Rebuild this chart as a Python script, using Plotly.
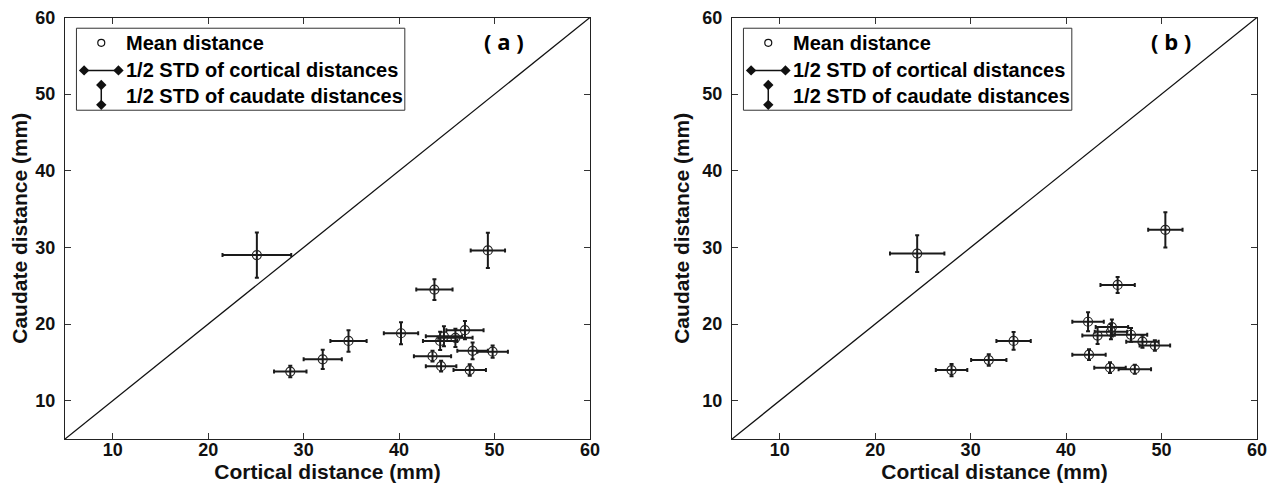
import plotly.graph_objects as go

# ---------------- data ----------------
# Panel (a)
a_cortical = [25.1, 28.6, 32.0, 34.7, 40.2, 43.7, 49.3, 44.7, 45.9, 44.3, 46.9, 43.5, 44.4, 47.7, 49.8, 47.4]
a_caudate = [29.0, 13.8, 15.4, 17.8, 18.8, 24.5, 29.6, 18.4, 18.2, 17.8, 19.2, 15.8, 14.5, 16.5, 16.4, 14.0]
a_cort_sd = [3.6, 1.7, 2.0, 1.9, 1.8, 1.9, 1.8, 1.9, 1.8, 1.8, 1.95, 1.95, 1.6, 1.6, 1.6, 1.7]
a_caud_sd = [2.95, 0.75, 1.25, 1.4, 1.45, 1.35, 2.3, 1.3, 1.2, 1.2, 1.2, 0.7, 0.7, 1.1, 0.8, 0.75]

# Panel (b)
b_cortical = [24.4, 28.0, 31.9, 34.5, 45.4, 42.3, 42.4, 44.6, 47.2, 43.3, 44.8, 44.7, 46.8, 48.0, 49.3, 50.4]
b_caudate = [29.2, 14.0, 15.3, 17.8, 25.1, 20.3, 16.0, 14.3, 14.1, 18.5, 19.6, 19.0, 18.6, 17.7, 17.2, 32.3]
b_cort_sd = [2.85, 1.65, 1.85, 1.8, 1.8, 1.65, 1.75, 1.65, 1.7, 1.6, 1.7, 1.7, 1.7, 1.7, 1.6, 1.8]
b_caud_sd = [2.4, 0.8, 0.75, 1.15, 1.05, 1.25, 0.7, 0.7, 0.6, 1.1, 1.0, 1.0, 0.9, 0.8, 0.7, 2.3]

axis_range = [5, 60]
tick_vals = [10, 20, 30, 40, 50, 60]
panel_labels = ["( a )", "( b )"]
legend_labels = ["Mean distance", "1/2 STD of cortical distances", "1/2 STD of caudate distances"]
x_title = "Cortical distance (mm)"
y_title = "Caudate distance (mm)"

# ---------------- figure ----------------
# the page body has an 8px margin, so the figure is sized to fit the 1281x498 window
W, H = 1265, 482
fig = go.Figure()

panels = [
    (a_cortical, a_caudate, a_cort_sd, a_caud_sd, "x", "y"),
    (b_cortical, b_caudate, b_cort_sd, b_caud_sd, "x2", "y2"),
]

ERR = "#1a1a1a"
for cx, cy, sx, sy, xa, ya in panels:
    fig.add_trace(go.Scatter(x=axis_range, y=axis_range, mode="lines",
                             line=dict(color="#111", width=1.3),
                             xaxis=xa, yaxis=ya, showlegend=False, hoverinfo="skip"))
    fig.add_trace(go.Scatter(
        x=cx, y=cy, mode="markers", xaxis=xa, yaxis=ya, showlegend=False,
        marker=dict(symbol="circle-open", size=9, color="#222", line=dict(width=1.2)),
        error_x=dict(type="data", array=sx, visible=True, color=ERR, thickness=2, width=2),
        error_y=dict(type="data", array=sy, visible=True, color=ERR, thickness=2, width=2),
    ))

# legend drawn inside each panel (data coordinates of the panel)
leg_box = dict(x0=6.2, x1=40.6, y0=47.9, y1=58.6)
leg_text_x = 11.2
leg_rows_y = [56.7, 53.1, 49.7]
for i, (xa, ya) in enumerate([("x", "y"), ("x2", "y2")]):
    fig.add_shape(type="rect", xref=xa, yref=ya, **leg_box,
                  line=dict(color="#333", width=1), fillcolor="white", layer="below")
    fig.add_trace(go.Scatter(x=[8.8], y=[leg_rows_y[0]], mode="markers", xaxis=xa, yaxis=ya,
                             marker=dict(symbol="circle-open", size=7, color="#111", line=dict(width=1.2)),
                             showlegend=False, hoverinfo="skip"))
    fig.add_trace(go.Scatter(x=[7.0, 10.6], y=[leg_rows_y[1]] * 2, mode="lines+markers",
                             xaxis=xa, yaxis=ya,
                             line=dict(color="#111", width=1.5),
                             marker=dict(symbol="diamond", size=8, color="#111"),
                             showlegend=False, hoverinfo="skip"))
    fig.add_trace(go.Scatter(x=[8.8, 8.8], y=[51.2, 48.6], mode="lines+markers",
                             xaxis=xa, yaxis=ya,
                             line=dict(color="#111", width=1.5),
                             marker=dict(symbol="diamond", size=8, color="#111"),
                             showlegend=False, hoverinfo="skip"))
    for lab, yy in zip(legend_labels, leg_rows_y):
        fig.add_annotation(x=leg_text_x, y=yy, xref=xa, yref=ya, text=lab, showarrow=False,
                           xanchor="left", yanchor="middle",
                           font=dict(family="Liberation Sans", size=20, color="black", weight="bold"))
    fig.add_annotation(x=51.0, y=56.9, xref=xa, yref=ya, text=panel_labels[i], showarrow=False,
                       xanchor="center", yanchor="middle",
                       font=dict(family="Open Sans", size=22, color="black", weight="bold"))

ydom = [(H - 431) / H, (H - 9.5) / H]
xdoms = [[57 / W, 582 / W], [724 / W, 1249 / W]]

tickfont = dict(family="Liberation Sans", size=18, color="#111", weight="bold")
titlefont = dict(family="Liberation Sans", size=21, color="#111", weight="bold")

def xax(dom, anchor):
    return dict(domain=dom, anchor=anchor, range=axis_range, tickvals=tick_vals,
                ticks="inside", ticklen=6, tickwidth=1, tickcolor="#333",
                showline=True, linecolor="#222", linewidth=1.2, mirror="ticks",
                showgrid=False, zeroline=False, tickfont=tickfont, ticklabelstandoff=-6,
                ticklabeloverflow="allow",
                title=dict(text=x_title, font=titlefont, standoff=2))

def yax(anchor):
    return dict(domain=ydom, anchor=anchor, range=axis_range, tickvals=tick_vals,
                ticks="inside", ticklen=6, tickwidth=1, tickcolor="#333",
                showline=True, linecolor="#222", linewidth=1.2, mirror="ticks",
                showgrid=False, zeroline=False, tickfont=tickfont, ticklabelstandoff=5,
                ticklabeloverflow="allow",
                title=dict(text=y_title, font=titlefont, standoff=6))

fig.update_layout(
    width=W, height=H,
    margin=dict(l=0, r=0, t=0, b=0),
    paper_bgcolor="white", plot_bgcolor="white",
    xaxis=xax(xdoms[0], "y"), yaxis=yax("x"),
    xaxis2=xax(xdoms[1], "y2"), yaxis2=yax("x2"),
    showlegend=False,
)
for k in ["xaxis", "yaxis", "xaxis2", "yaxis2"]:
    fig.layout[k].automargin = False

fig.write_html("out.html")
